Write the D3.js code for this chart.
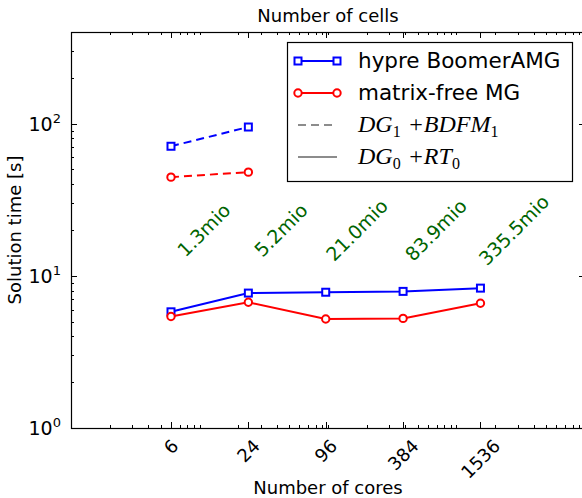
<!DOCTYPE html>
<html>
<head>
<meta charset="utf-8">
<script src="https://cdnjs.cloudflare.com/ajax/libs/d3/7.8.5/d3.min.js"></script>
<style>
  body { margin: 0; background: #fff; }
  text { font-family: "DejaVu Sans", sans-serif; }
</style>
</head>
<body>
<div id="root"></div>
<script>
// weak scaling: solution time vs. number of cores
const cores = [6, 24, 96, 384, 1536];
const amgDG1 = [71, 95];
const mgDG1 = [44.5, 48];
const amgDG0 = [5.8, 7.7, 7.8, 7.9, 8.3];
const mgDG0 = [5.4, 6.7, 5.2, 5.25, 6.6];
const cellLabels = ["1.3mio", "5.2mio", "21.0mio", "83.9mio", "335.5mio"];
const cellLabelX = [10.8, 43, 168, 690, 2800];
const cellLabelY = 20;
const yMajor = [1, 10, 100];

const width = 582, height = 498;
const svg = d3.select("#root").append("svg").attr("width", width).attr("height", height);

const x = d3.scaleLog().domain([1, 10000]).range([71, 585]);
const y = d3.scaleLog().domain([1, 400]).range([428, 32]);

// minor ticks 2..9 in every decade
const xMinor = [], yMinor = [];
for (let k = 0; k < 4; k++) for (let s = 1; s < 10; s++) xMinor.push(s * Math.pow(10, k));
for (let k = 0; k < 3; k++) for (let s = 2; s < 10; s++) {
  const v = s * Math.pow(10, k);
  if (v <= 400) yMinor.push(v);
}

const ticks = svg.append("g").attr("stroke", "#000").attr("stroke-width", 1).attr("shape-rendering", "crispEdges");
function vTicks(vals, len) {
  vals.forEach(v => {
    const px = Math.round(x(v)) + 0.5;
    ticks.append("line").attr("x1", px).attr("x2", px).attr("y1", 428).attr("y2", 428 - len);
    ticks.append("line").attr("x1", px).attr("x2", px).attr("y1", 32).attr("y2", 32 + len);
  });
}
function hTicks(vals, len) {
  vals.forEach(v => {
    const py = Math.round(y(v)) + 0.5;
    ticks.append("line").attr("x1", 71).attr("x2", 71 + len).attr("y1", py).attr("y2", py);
    ticks.append("line").attr("x1", 585).attr("x2", 585 - len).attr("y1", py).attr("y2", py);
  });
}
vTicks(xMinor, 3);
vTicks(cores, 6);
hTicks(yMinor, 3);
hTicks(yMajor, 6);

// frame
svg.append("rect")
  .attr("x", 71.5).attr("y", 32.5).attr("width", 514).attr("height", 396)
  .attr("fill", "none").attr("stroke", "#000").attr("stroke-width", 1.2);

// y tick labels 10^k
yMajor.forEach(v => {
  const t = svg.append("text")
    .attr("x", 61).attr("y", y(v) + 7)
    .attr("text-anchor", "end")
    .attr("font-size", 19);
  t.append("tspan").text("10");
  t.append("tspan").attr("dy", -8).attr("font-size", 13).text(Math.round(Math.log10(v)));
});

// x tick labels, rotated, bbox centred under the tick
cores.forEach(c => {
  const fs = 18;
  const t = svg.append("text")
    .attr("text-anchor", "middle")
    .attr("dy", "0.36em")
    .attr("font-size", fs)
    .text(c);
  const w = t.node().getComputedTextLength();
  const hh = (w + 0.73 * fs) / (2 * Math.SQRT2);
  t.attr("transform", "translate(" + x(c) + "," + (438 + hh) + ") rotate(-45)");
});

// axis labels and title
svg.append("text").attr("x", 328).attr("y", 22).attr("text-anchor", "middle").attr("font-size", 18).text("Number of cells");
svg.append("text").attr("x", 328).attr("y", 494).attr("text-anchor", "middle").attr("font-size", 18).text("Number of cores");
svg.append("text")
  .attr("transform", "translate(21,230) rotate(-90)")
  .attr("text-anchor", "middle").attr("font-size", 18)
  .text("Solution time [s]");

// cell count labels
cellLabels.forEach((s, i) => {
  svg.append("text")
    .attr("transform", "translate(" + x(cellLabelX[i]) + "," + y(cellLabelY) + ") rotate(-45)")
    .attr("text-anchor", "middle")
    .attr("dy", "0.36em")
    .attr("font-size", 19)
    .attr("fill", "#006400")
    .text(s);
});

const line = d3.line().x(d => x(d[0])).y(d => y(d[1]));

function series(vals, color, marker, dashed) {
  const pts = vals.map((v, i) => [cores[i], v]);
  const g = svg.append("g");
  g.append("path")
    .attr("d", line(pts))
    .attr("fill", "none")
    .attr("stroke", color)
    .attr("stroke-width", 2)
    .attr("stroke-dasharray", dashed ? "8,5" : null);
  drawMarkers(g, pts.map(p => [x(p[0]), y(p[1])]), color, marker);
}

function drawMarkers(g, pxs, color, marker) {
  pxs.forEach(p => {
    if (marker === "square") {
      g.append("rect")
        .attr("x", p[0] - 3.5).attr("y", p[1] - 3.5)
        .attr("width", 7).attr("height", 7)
        .attr("fill", "#fff").attr("stroke", color).attr("stroke-width", 2);
    } else {
      g.append("circle")
        .attr("cx", p[0]).attr("cy", p[1]).attr("r", 3.7)
        .attr("fill", "#fff").attr("stroke", color).attr("stroke-width", 2);
    }
  });
}

series(amgDG1, "#0000ff", "square", true);
series(mgDG1, "#ff0000", "circle", true);
series(amgDG0, "#0000ff", "square", false);
series(mgDG0, "#ff0000", "circle", false);

// legend
const leg = svg.append("g");
leg.append("rect")
  .attr("x", 287.5).attr("y", 42.5).attr("width", 285).attr("height", 139)
  .attr("fill", "#fff").attr("stroke", "#000").attr("stroke-width", 1.2);

const rowY = [61, 93, 125, 157];
const lx1 = 298, lx2 = 337, tx = 358;

[["hypre BoomerAMG", "#0000ff", "square"], ["matrix-free MG", "#ff0000", "circle"]].forEach((r, i) => {
  leg.append("line").attr("x1", lx1).attr("x2", lx2).attr("y1", rowY[i]).attr("y2", rowY[i])
    .attr("stroke", r[1]).attr("stroke-width", 2);
  drawMarkers(leg, [[lx1, rowY[i]], [lx2, rowY[i]]], r[1], r[2]);
  leg.append("text").attr("x", tx).attr("y", rowY[i] + 7).attr("font-size", 21.5).text(r[0]);
});

leg.append("line").attr("x1", lx1).attr("x2", lx2).attr("y1", rowY[2]).attr("y2", rowY[2])
  .attr("stroke", "#8c8c8c").attr("stroke-width", 2).attr("stroke-dasharray", "8,5");
leg.append("line").attr("x1", lx1).attr("x2", lx2).attr("y1", rowY[3]).attr("y2", rowY[3])
  .attr("stroke", "#8c8c8c").attr("stroke-width", 2);

// math labels: [base, subscript] pairs
const mathRows = [[["DG", "1"], ["+BDFM", "1"]], [["DG", "0"], ["+RT", "0"]]];
mathRows.forEach((parts, i) => {
  const t = leg.append("text")
    .attr("x", tx).attr("y", rowY[2 + i] + 7)
    .style("font-family", "'Liberation Serif', serif")
    .attr("font-size", 24);
  parts.forEach((p, j) => {
    t.append("tspan").attr("font-style", "italic").attr("dy", j === 0 ? 0 : -5)
      .attr("dx", j === 0 ? 0 : 7).text(p[0]);
    t.append("tspan").attr("font-size", 16).attr("dy", 5).text(p[1]);
  });
});
</script>
</body>
</html>
